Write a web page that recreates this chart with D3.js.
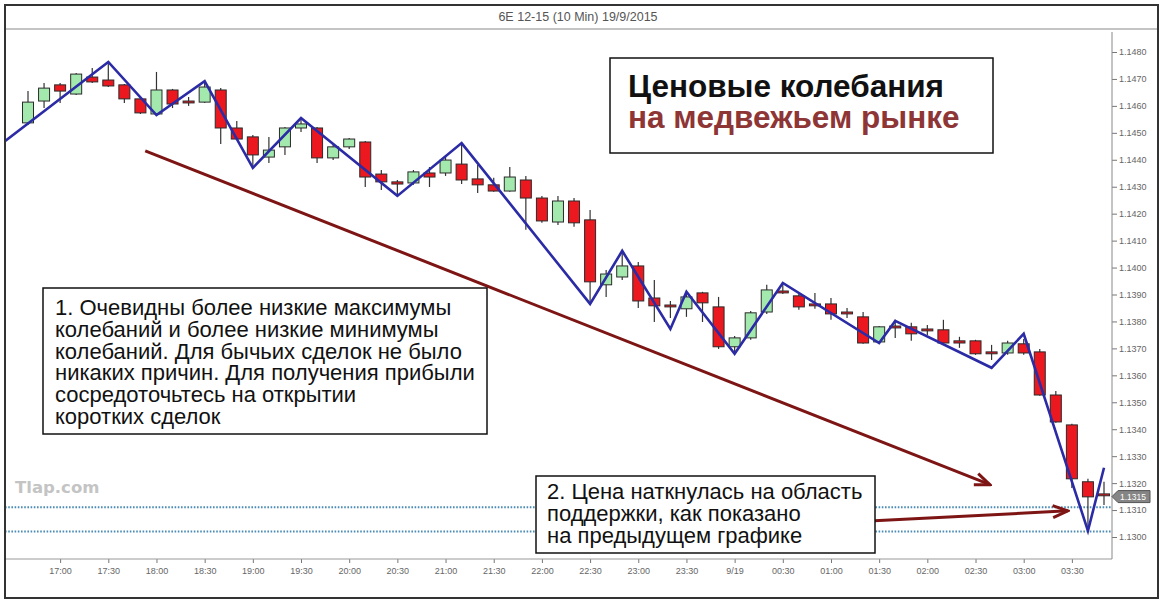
<!DOCTYPE html>
<html>
<head>
<meta charset="utf-8">
<script src="https://cdn.jsdelivr.net/npm/d3@7"></script>
<style>
  body { margin: 0; background: #fff; }
  svg { display: block; }
</style>
</head>
<body>
<div id="chart"></div>
<script>
// 6E 12-15, 10 min candles, 18/9 16:40 .. 19/9 03:50
const opens = [1.14537,1.14618,1.14678,1.14644,1.14707,1.14696,1.14678,1.14626,1.1457,1.14659,
  1.14618,1.14614,1.14659,1.14518,1.14485,1.1441,1.14448,1.14518,1.14518,1.14407,
  1.14448,1.14466,1.14347,1.14318,1.14314,1.14351,1.14351,1.14384,1.14329,1.14307,
  1.14284,1.14325,1.14258,1.14169,1.14247,1.14177,1.13936,1.13965,1.14006,1.13887,
  1.13861,1.13847,1.13906,1.13854,1.13706,1.13739,1.13835,1.13913,1.13895,1.13865,
  1.13865,1.13835,1.13817,1.13724,1.13783,1.1378,1.13772,1.13769,1.13728,1.13728,
  1.13687,1.13683,1.13717,1.13687,1.13527,1.13416,1.13205,1.1316];
const highs = [1.14655,1.14685,1.14685,1.14722,1.14741,1.14763,1.14681,1.14633,1.14726,1.14663,
  1.14633,1.14692,1.14666,1.14544,1.14492,1.14485,1.14522,1.14555,1.14522,1.14455,
  1.14481,1.1447,1.14362,1.14325,1.14362,1.14373,1.1441,1.14462,1.14381,1.14333,
  1.14373,1.1434,1.14266,1.14266,1.14258,1.14214,1.13991,1.14062,1.14021,1.13954,
  1.13876,1.1391,1.1391,1.13891,1.13746,1.13839,1.13936,1.13943,1.13902,1.13906,
  1.13887,1.1385,1.13835,1.13783,1.13806,1.13795,1.13787,1.13806,1.13743,1.13732,
  1.13713,1.13728,1.13735,1.13698,1.13542,1.1342,1.13216,1.13205];
const lows = [1.14529,1.14592,1.14611,1.1464,1.14685,1.1467,1.14611,1.1457,1.14566,1.14592,
  1.146,1.14611,1.14459,1.14474,1.1437,1.14388,1.14418,1.14503,1.14388,1.14399,
  1.1444,1.14299,1.14288,1.14266,1.14307,1.14299,1.1434,1.1431,1.14277,1.14281,
  1.14281,1.1414,1.14166,1.14158,1.14151,1.13865,1.13891,1.13954,1.1385,1.13798,
  1.13813,1.13817,1.13798,1.13698,1.1368,1.13732,1.13828,1.13902,1.13843,1.13847,
  1.13806,1.13813,1.13717,1.13717,1.13739,1.13728,1.1375,1.13717,1.13702,1.13676,
  1.13657,1.13676,1.13676,1.13524,1.13424,1.13182,1.13027,1.13119];
const closes = [1.14614,1.14666,1.14655,1.14718,1.14689,1.14674,1.14626,1.14574,1.14659,1.14607,
  1.14611,1.1467,1.14518,1.14477,1.14418,1.14436,1.14518,1.14533,1.14407,1.14448,
  1.14477,1.14336,1.14318,1.1431,1.14355,1.14336,1.14399,1.14325,1.14307,1.14284,
  1.14336,1.14258,1.14173,1.14247,1.14166,1.13947,1.13976,1.14006,1.13876,1.13858,
  1.13854,1.13891,1.13869,1.13706,1.13739,1.13832,1.13917,1.13906,1.13854,1.13858,
  1.13828,1.13828,1.1372,1.1378,1.13776,1.13754,1.13765,1.1372,1.1372,1.1368,
  1.1368,1.1372,1.13683,1.13527,1.13427,1.13216,1.13149,1.13153];

// swing zigzag (candle index, price)
const zigIdx = [-1.5,5,8,11,14,17,23,27,35,37,40,41,44,47,53,54,60,62,66,67];
const zigPrice = [1.14466,1.14763,1.14566,1.14692,1.1437,1.14555,1.14266,1.14462,1.13865,1.14062,
  1.13772,1.1391,1.1368,1.13943,1.1372,1.13802,1.13628,1.13754,1.13023,1.13257];

const xTickLabels = ["17:00","17:30","18:00","18:30","19:00","19:30","20:00","20:30","21:00","21:30",
  "22:00","22:30","23:00","23:30","9/19","00:30","01:00","01:30","02:00","02:30","03:00","03:30"];
const yTickValues = [1.1300,1.1310,1.1320,1.1330,1.1340,1.1350,1.1360,1.1370,1.1380,1.1390,
  1.1400,1.1410,1.1420,1.1430,1.1440,1.1450,1.1460,1.1470,1.1480];

const supportLevels = [1.1311, 1.1302];
const lastPrice = 1.1315;
// arrows: [fromIdx, fromPrice, toIdx, toPrice]
const arrows = [[7.3, 1.14433, 59.9, 1.13194], [52.7, 1.1306, 64.75, 1.13097]];

const titleText = "6E 12-15 (10 Min)  19/9/2015";
const headLines = ["Ценовые колебания", "на медвежьем рынке"];
const note1 = ["1. Очевидны более низкие максимумы", "колебаний и более низкие минимумы",
  "колебаний. Для бычьих сделок не было", "никаких причин. Для получения прибыли",
  "сосредоточьтесь на открытии", "коротких сделок"];
const note2 = ["2. Цена наткнулась на область", "поддержки, как показано", "на предыдущем графике"];

const W = 1164, H = 605;
const plot = {left: 5, right: 1112, top: 29, bottom: 559};

const t0 = new Date(2015, 8, 18, 16, 40);
const tAt = i => new Date(t0.getTime() + i * 600000);
const candles = opens.map((o, i) => ({t: tAt(i), o, h: highs[i], l: lows[i], c: closes[i]}));

const x = d3.scaleTime().domain([tAt(0), tAt(opens.length - 1)]).range([28, 1104]);
const y = d3.scaleLinear().domain([1.1300, 1.1480]).range([537, 52]);

const svg = d3.select("#chart").append("svg")
  .attr("width", W).attr("height", H)
  .attr("font-family", "'Liberation Sans', Arial, sans-serif");

svg.append("rect").attr("width", W).attr("height", H).attr("fill", "#fff");

const defs = svg.append("defs");
defs.append("clipPath").attr("id", "plotClip")
  .append("rect").attr("x", plot.left).attr("y", plot.top)
  .attr("width", plot.right - plot.left).attr("height", plot.bottom - plot.top);
defs.append("marker").attr("id", "head")
  .attr("viewBox", "-16 -8 18 16").attr("refX", 0).attr("refY", 0)
  .attr("markerWidth", 18).attr("markerHeight", 16)
  .attr("markerUnits", "userSpaceOnUse").attr("orient", "auto")
  .append("path").attr("d", "M-15,-6 L0,0 L-15,6")
  .attr("fill", "none").attr("stroke", "#7d1515").attr("stroke-width", 3);

// title strip
svg.append("line").attr("x1", 5).attr("x2", 1158).attr("y1", 29).attr("y2", 29)
  .attr("stroke", "#b0b0b0").attr("stroke-width", 1.5);
svg.append("text").attr("x", 578).attr("y", 21).attr("text-anchor", "middle")
  .attr("font-size", 12.5).attr("fill", "#555").text(titleText);

// watermark
svg.append("text").attr("x", 15).attr("y", 493)
  .attr("font-family", "'DejaVu Sans', sans-serif").attr("font-weight", "bold")
  .attr("font-size", 16.5).attr("fill", "#c4c4c4").text("Tlap.com");

// axes
const xTicks = xTickLabels.map((d, k) => new Date(2015, 8, 18, 17, 30 * k));
const xAxis = svg.append("g").attr("transform", `translate(0,${plot.bottom})`)
  .call(d3.axisBottom(x).tickValues(xTicks).tickFormat((d, k) => xTickLabels[k])
    .tickSize(4).tickPadding(5));
xAxis.select(".domain").remove();
xAxis.selectAll("line").attr("stroke", "#777");
xAxis.selectAll("text").attr("font-size", 9).attr("fill", "#666");
svg.append("line").attr("x1", plot.left).attr("x2", plot.right)
  .attr("y1", plot.bottom).attr("y2", plot.bottom).attr("stroke", "#999");

const yAxis = svg.append("g").attr("transform", `translate(${plot.right},0)`)
  .call(d3.axisRight(y).tickValues(yTickValues).tickFormat(d3.format(".4f"))
    .tickSize(5).tickPadding(2));
yAxis.select(".domain").remove();
yAxis.selectAll("line").attr("stroke", "#777");
yAxis.selectAll("text").attr("font-size", 9).attr("fill", "#666");
svg.append("line").attr("x1", plot.right).attr("x2", plot.right)
  .attr("y1", plot.top + 3).attr("y2", plot.bottom).attr("stroke", "#888");

const g = svg.append("g").attr("clip-path", "url(#plotClip)");

// support levels
g.selectAll(".support").data(supportLevels).join("line")
  .attr("x1", plot.left).attr("x2", plot.right)
  .attr("y1", d => y(d)).attr("y2", d => y(d))
  .attr("stroke", "#4a8cb4").attr("stroke-width", 2).attr("stroke-dasharray", "1.6,1.6");

// candles
const bw = 11;
const cg = g.selectAll(".candle").data(candles).join("g");
cg.append("line")
  .attr("x1", d => x(d.t)).attr("x2", d => x(d.t))
  .attr("y1", d => y(d.h)).attr("y2", d => y(d.l))
  .attr("stroke", "#333").attr("stroke-width", 1.2);
cg.append("rect")
  .attr("x", d => x(d.t) - bw / 2).attr("width", bw)
  .attr("y", d => y(Math.max(d.o, d.c)))
  .attr("height", d => Math.max(1.5, Math.abs(y(d.o) - y(d.c))))
  .attr("fill", d => d.c >= d.o ? "#a3e9ae" : "#ec1820")
  .attr("stroke", "#2b2b2b").attr("stroke-width", 1);

// zigzag
const zig = zigIdx.map((d, k) => [x(tAt(d)), y(zigPrice[k])]);
g.append("path").attr("d", d3.line()(zig))
  .attr("fill", "none").attr("stroke", "#2b2ba6").attr("stroke-width", 2.6)
  .attr("stroke-linejoin", "miter");

// arrows
svg.selectAll(".arrow").data(arrows).join("line")
  .attr("x1", d => x(tAt(d[0]))).attr("y1", d => y(d[1]))
  .attr("x2", d => x(tAt(d[2]))).attr("y2", d => y(d[3]))
  .attr("stroke", "#7d1515").attr("stroke-width", 3)
  .attr("marker-end", "url(#head)");

// last price tag
const ly = y(lastPrice);
svg.append("path")
  .attr("d", `M${plot.right},${ly} L${plot.right + 6},${ly - 6} L1150,${ly - 6} L1150,${ly + 6} L${plot.right + 6},${ly + 6} Z`)
  .attr("fill", "#858585").attr("stroke", "#555");
svg.append("text").attr("x", 1133).attr("y", ly + 3).attr("text-anchor", "middle")
  .attr("font-size", 8.5).attr("fill", "#fff").text(d3.format(".4f")(lastPrice));

// heading box
svg.append("rect").attr("x", 610).attr("y", 58).attr("width", 383).attr("height", 95)
  .attr("fill", "#fff").attr("stroke", "#111").attr("stroke-width", 1.5);
svg.selectAll(".head").data(headLines).join("text")
  .attr("x", 628).attr("y", (d, i) => 97 + i * 31)
  .attr("font-size", 31.5).attr("font-weight", "bold")
  .attr("fill", (d, i) => i === 0 ? "#111" : "#8e3535").text(d => d);

// note boxes
function noteBox(lines, bx, by, bw2, bh, tx, ty) {
  svg.append("rect").attr("x", bx).attr("y", by).attr("width", bw2).attr("height", bh)
    .attr("fill", "#fff").attr("stroke", "#111").attr("stroke-width", 1.5);
  svg.append("g").selectAll("text").data(lines).join("text")
    .attr("x", tx).attr("y", (d, i) => ty + i * 21.8)
    .attr("font-size", 22).attr("fill", "#111").text(d => d);
}
noteBox(note1, 43, 288, 444, 146, 55, 315);
noteBox(note2, 536, 476, 339, 77, 547, 499);

// outer frame
svg.append("rect").attr("x", 5).attr("y", 5).attr("width", 1153).attr("height", 593)
  .attr("fill", "none").attr("stroke", "#333").attr("stroke-width", 2);
</script>
</body>
</html>
